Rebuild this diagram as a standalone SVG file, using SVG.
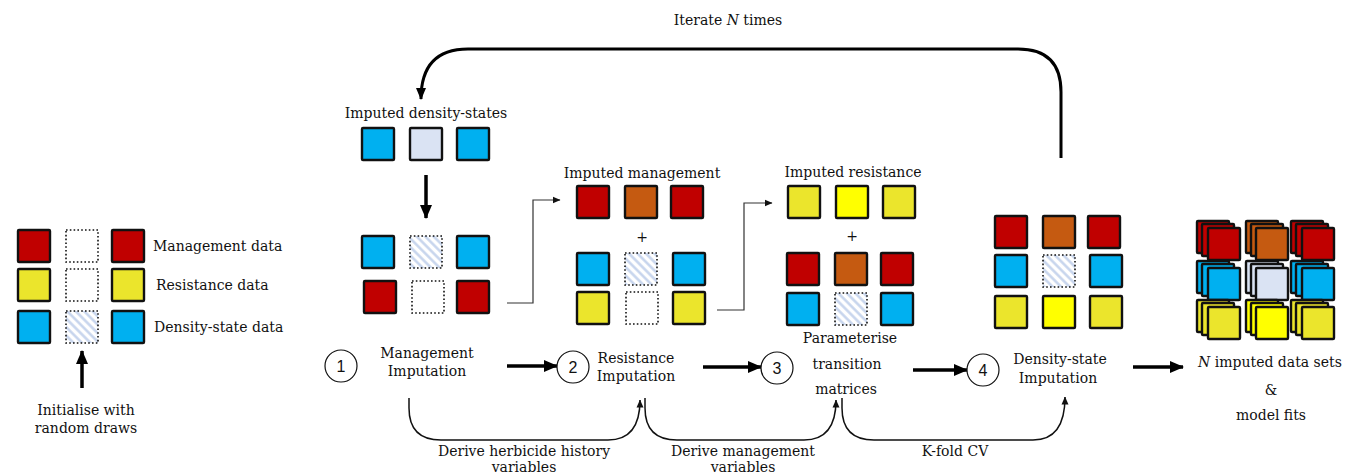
<svg xmlns="http://www.w3.org/2000/svg" width="1357" height="475" viewBox="0 0 1357 475">
<defs>
<style>
.t{font-family:"DejaVu Serif","Liberation Serif",serif;font-size:14px;fill:#111}
.c{text-anchor:middle}
.num{font-family:"Liberation Sans","Open Sans",sans-serif;font-size:16px;fill:#111;text-anchor:middle}
.sq{stroke:#111;stroke-width:2.4}
.dot{fill:#fff;stroke:#111;stroke-width:1.6;stroke-dasharray:1.6 2.2}
.hat{fill:url(#hatch);stroke:#111;stroke-width:1.6;stroke-dasharray:1.6 2.2}
.r{fill:#C00000}.o{fill:#C55A11}.y{fill:#EBE52C}.yb{fill:#FFFF00}.b{fill:#00B0F0}.l{fill:#DAE3F3}
.thick{stroke:#000;stroke-width:3.5;fill:none;marker-end:url(#big)}
.thin{stroke:#333;stroke-width:1.2;fill:none;marker-end:url(#small)}
.curve{stroke:#111;stroke-width:1.5;fill:none;marker-end:url(#small)}
.circ{fill:#fff;stroke:#111;stroke-width:1.2}
</style>
<pattern id="hatch" width="6" height="6" patternUnits="userSpaceOnUse" patternTransform="rotate(-45)">
<rect width="6" height="6" fill="#fff"/>
<line x1="1.5" y1="0" x2="1.5" y2="6" stroke="#C3D2EC" stroke-width="2.4"/>
</pattern>
<marker id="big" markerUnits="userSpaceOnUse" markerWidth="14" markerHeight="14" refX="13" refY="7" orient="auto">
<path d="M0,1 L14,7 L0,13 Z" fill="#000"/>
</marker>
<marker id="small" markerUnits="userSpaceOnUse" markerWidth="8" markerHeight="8" refX="7.5" refY="4" orient="auto">
<path d="M0,0.5 L8,4 L0,7.5 Z" fill="#111"/>
</marker>
<marker id="loop" markerUnits="userSpaceOnUse" markerWidth="12" markerHeight="12" refX="11" refY="6" orient="auto">
<path d="M0,1 L12,6 L0,11 Z" fill="#000"/>
</marker>
</defs>
<rect width="1357" height="475" fill="#fff"/>

<g id="connectors">
<path d="M1061 158 L1061 92 Q1061 49 1018 49 L468 49 Q421 49 421 99" stroke="#000" stroke-width="3" fill="none" marker-end="url(#loop)"/>
<line class="thick" x1="82" y1="388" x2="82" y2="351"/>
<line class="thick" x1="426" y1="175" x2="426" y2="218"/>
<path class="thin" d="M507 303 L533 303 L533 200 L560 200"/>
<path class="thin" d="M717 310 L744 310 L744 203 L772 203"/>
<line class="thick" x1="507" y1="366" x2="557" y2="366"/>
<line class="thick" x1="703" y1="367" x2="761" y2="367"/>
<line class="thick" x1="913" y1="370" x2="967" y2="370"/>
<line class="thick" x1="1133" y1="367" x2="1183" y2="367"/>
<path class="curve" d="M409 398 L409 408 Q409 440 441 440 L608 440 Q640 440 640 400"/>
<path class="curve" d="M645 398 L645 408 Q645 440 677 440 L804 440 Q836 440 836 400"/>
<path class="curve" d="M842 398 L842 408 Q842 440 874 440 L1033 440 Q1065 440 1065 397"/>
</g>

<g id="legend">
<rect class="sq r" x="18" y="230" width="32" height="32" rx="1"/>
<rect class="dot" x="66" y="230" width="32" height="32"/>
<rect class="sq r" x="112" y="230" width="32" height="32" rx="1"/>
<rect class="sq y" x="18" y="269" width="32" height="32" rx="1"/>
<rect class="dot" x="66" y="269" width="32" height="32"/>
<rect class="sq y" x="112" y="269" width="32" height="32" rx="1"/>
<rect class="sq b" x="18" y="311" width="32" height="32" rx="1"/>
<rect class="hat" x="66" y="311" width="32" height="32"/>
<rect class="sq b" x="112" y="311" width="32" height="32" rx="1"/>
<text class="t" x="153" y="251">Management data</text>
<text class="t" x="156" y="290">Resistance data</text>
<text class="t" x="154" y="332">Density-state data</text>
<text class="t c" x="86" y="415">Initialise with</text>
<text class="t c" x="86" y="433">random draws</text>
</g>

<g id="iterate-label">
<text class="t c" x="728" y="25">Iterate <tspan font-style="italic">N</tspan> times</text>
</g>

<g id="imputed-density-states">
<text class="t c" x="426" y="118">Imputed density-states</text>
<rect class="sq b" x="362" y="128" width="32" height="32" rx="1"/>
<rect class="sq l" x="410" y="128" width="32" height="32" rx="1"/>
<rect class="sq b" x="457" y="128" width="32" height="32" rx="1"/>
</g>

<g id="step1-data">
<rect class="sq b" x="362" y="236" width="32" height="32" rx="1"/>
<rect class="hat" x="410" y="236" width="32" height="32"/>
<rect class="sq b" x="457" y="236" width="32" height="32" rx="1"/>
<rect class="sq r" x="364" y="281" width="32" height="32" rx="1"/>
<rect class="dot" x="412" y="281" width="32" height="32"/>
<rect class="sq r" x="457" y="281" width="32" height="32" rx="1"/>
</g>

<g id="imputed-management">
<text class="t c" x="642" y="178">Imputed management</text>
<rect class="sq r" x="577" y="186" width="32" height="32" rx="1"/>
<rect class="sq o" x="625" y="186" width="32" height="32" rx="1"/>
<rect class="sq r" x="671" y="186" width="32" height="32" rx="1"/>
<text class="t c" x="642" y="242">+</text>
<rect class="sq b" x="577" y="253" width="32" height="32" rx="1"/>
<rect class="hat" x="625" y="253" width="32" height="32"/>
<rect class="sq b" x="673" y="253" width="32" height="32" rx="1"/>
<rect class="sq y" x="577" y="292" width="32" height="32" rx="1"/>
<rect class="dot" x="626" y="292" width="32" height="32"/>
<rect class="sq y" x="673" y="292" width="32" height="32" rx="1"/>
</g>

<g id="imputed-resistance">
<text class="t c" x="853" y="177">Imputed resistance</text>
<rect class="sq y" x="788" y="186" width="32" height="32" rx="1"/>
<rect class="sq yb" x="836" y="186" width="32" height="32" rx="1"/>
<rect class="sq y" x="883" y="186" width="32" height="32" rx="1"/>
<text class="t c" x="852" y="241">+</text>
<rect class="sq r" x="787" y="253" width="32" height="32" rx="1"/>
<rect class="sq o" x="835" y="253" width="32" height="32" rx="1"/>
<rect class="sq r" x="881" y="253" width="32" height="32" rx="1"/>
<rect class="sq b" x="787" y="293" width="32" height="32" rx="1"/>
<rect class="hat" x="835" y="293" width="32" height="32"/>
<rect class="sq b" x="881" y="293" width="32" height="32" rx="1"/>
</g>

<g id="density-state-data">
<rect class="sq r" x="995" y="216" width="32" height="32" rx="1"/>
<rect class="sq o" x="1043" y="216" width="32" height="32" rx="1"/>
<rect class="sq r" x="1088" y="216" width="32" height="32" rx="1"/>
<rect class="sq b" x="995" y="255" width="32" height="32" rx="1"/>
<rect class="hat" x="1043" y="255" width="32" height="32"/>
<rect class="sq b" x="1090" y="255" width="32" height="32" rx="1"/>
<rect class="sq y" x="995" y="296" width="32" height="32" rx="1"/>
<rect class="sq yb" x="1043" y="296" width="32" height="32" rx="1"/>
<rect class="sq y" x="1090" y="296" width="32" height="32" rx="1"/>
</g>

<g id="imputed-sets">
<rect class="sq r" x="1197" y="221" width="32" height="32" rx="1"/><rect class="sq r" x="1202" y="224" width="32" height="32" rx="1"/><rect class="sq r" x="1208" y="228" width="32" height="32" rx="1"/>
<rect class="sq o" x="1246" y="221" width="32" height="32" rx="1"/><rect class="sq o" x="1251" y="224" width="32" height="32" rx="1"/><rect class="sq o" x="1256" y="228" width="32" height="32" rx="1"/>
<rect class="sq r" x="1291" y="221" width="32" height="32" rx="1"/><rect class="sq r" x="1296" y="224" width="32" height="32" rx="1"/><rect class="sq r" x="1302" y="228" width="32" height="32" rx="1"/>
<rect class="sq b" x="1197" y="261" width="32" height="32" rx="1"/><rect class="sq b" x="1202" y="264" width="32" height="32" rx="1"/><rect class="sq b" x="1208" y="268" width="32" height="32" rx="1"/>
<rect class="sq l" x="1246" y="261" width="32" height="32" rx="1"/><rect class="sq l" x="1251" y="264" width="32" height="32" rx="1"/><rect class="sq l" x="1256" y="268" width="32" height="32" rx="1"/>
<rect class="sq b" x="1291" y="261" width="32" height="32" rx="1"/><rect class="sq b" x="1296" y="264" width="32" height="32" rx="1"/><rect class="sq b" x="1302" y="268" width="32" height="32" rx="1"/>
<rect class="sq y" x="1197" y="300" width="32" height="32" rx="1"/><rect class="sq y" x="1202" y="303" width="32" height="32" rx="1"/><rect class="sq y" x="1208" y="307" width="32" height="32" rx="1"/>
<rect class="sq yb" x="1246" y="300" width="32" height="32" rx="1"/><rect class="sq yb" x="1251" y="303" width="32" height="32" rx="1"/><rect class="sq yb" x="1256" y="307" width="32" height="32" rx="1"/>
<rect class="sq y" x="1291" y="300" width="32" height="32" rx="1"/><rect class="sq y" x="1296" y="303" width="32" height="32" rx="1"/><rect class="sq y" x="1302" y="307" width="32" height="32" rx="1"/>
<text class="t c" x="1270" y="367"><tspan font-style="italic">N</tspan> imputed data sets</text>
<text class="t c" x="1271" y="395">&amp;</text>
<text class="t c" x="1271" y="420">model fits</text>
</g>

<g id="step1">
<circle class="circ" cx="341" cy="366" r="16"/>
<text class="num" x="341" y="372">1</text>
<text class="t c" x="427" y="358">Management</text>
<text class="t c" x="427" y="376">Imputation</text>
</g>
<g id="step2">
<circle class="circ" cx="573" cy="367" r="16"/>
<text class="num" x="573" y="373">2</text>
<text class="t c" x="636" y="363">Resistance</text>
<text class="t c" x="636" y="381">Imputation</text>
</g>
<g id="step3">
<circle class="circ" cx="777" cy="368" r="16"/>
<text class="num" x="777" y="374">3</text>
<text class="t c" x="850" y="343">Parameterise</text>
<text class="t c" x="847" y="369">transition</text>
<text class="t c" x="846" y="394">matrices</text>
</g>
<g id="step4">
<circle class="circ" cx="983" cy="370" r="16"/>
<text class="num" x="983" y="376">4</text>
<text class="t c" x="1060" y="364">Density-state</text>
<text class="t c" x="1058" y="383">Imputation</text>
</g>

<g id="curve-labels">
<text class="t c" x="524" y="456">Derive herbicide history</text>
<text class="t c" x="524" y="472">variables</text>
<text class="t c" x="743" y="456">Derive management</text>
<text class="t c" x="743" y="472">variables</text>
<text class="t c" x="955" y="456">K-fold CV</text>
</g>
</svg>
